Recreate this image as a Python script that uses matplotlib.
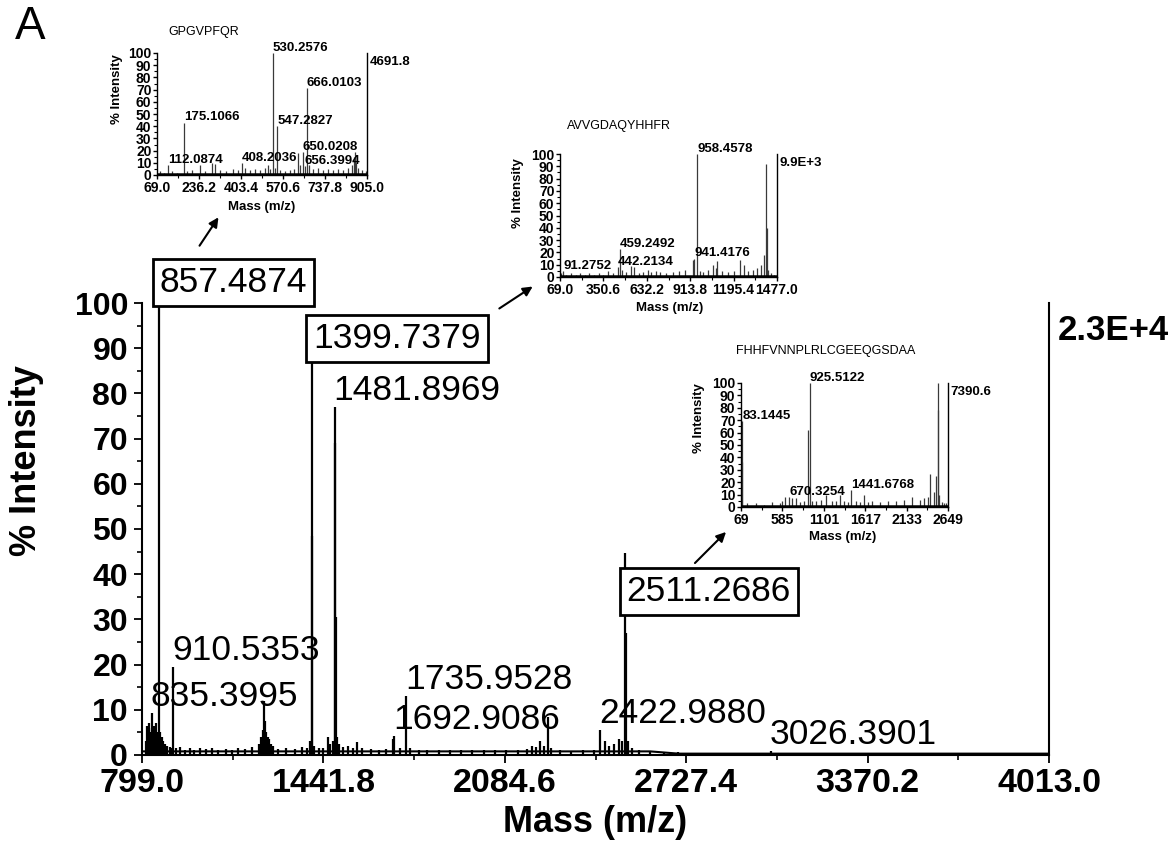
import matplotlib
matplotlib.use("Agg")
import matplotlib.pyplot as plt
from matplotlib.ticker import MultipleLocator, FixedLocator

plt.rcParams["font.family"] = ["Liberation Sans", "DejaVu Sans"]

# ---------------------------------------------------------------------------
# Data
# ---------------------------------------------------------------------------

# main MS spectrum: peak m/z and % intensity
main_mz = [812, 818, 825, 829, 833.4, 835.3995, 838, 843, 848.6, 852, 857.4874,
           863, 869, 874.5, 880, 888, 897, 904, 910.5353, 920, 935, 950, 968,
           985, 1005, 1025, 1048, 1070, 1095, 1118, 1140, 1165, 1190, 1212,
           1222, 1228, 1231.3, 1235, 1240, 1245, 1250, 1256, 1262, 1280, 1310,
           1340, 1365, 1385, 1396, 1399.7379, 1401.5, 1410, 1425, 1440, 1459,
           1466, 1475, 1481.8969, 1483.5, 1485.5, 1490, 1497, 1510, 1530, 1548,
           1560, 1580, 1610, 1640, 1665, 1687, 1692.9086, 1712, 1735.9528, 1750,
           1780, 1810, 1850, 1890, 1930, 1970, 2010, 2050, 2090, 2130, 2165,
           2180, 2195, 2209, 2222, 2238, 2250, 2280, 2320, 2360, 2400, 2422.9880,
           2440, 2455, 2470, 2488, 2500, 2511.2686, 2513, 2520, 2535, 2560, 2600,
           2650, 2700, 2760, 2820, 2900, 3000, 3026.3901, 3100, 3200, 3300, 3450,
           3600, 3700, 3750, 3800, 3850, 3900, 3950, 4000]
main_int = [3, 6.5, 7, 5, 6, 9.3, 4, 6.5, 7, 5, 100,
            5, 4, 3, 2.5, 2, 1.8, 1.5, 19.5, 1.5, 1.8, 1.2, 1.5,
            1.2, 1.5, 1.3, 1.6, 1.2, 1.4, 1.2, 1.5, 1.3, 1.8, 2.5,
            4, 5.5, 12, 7.5, 5, 4, 3.5, 2.5, 2, 1.4, 1.5,
            1.3, 1.8, 1.5, 3, 87, 48.5, 2, 1.5, 1.5, 4,
            2.5, 3, 77, 69, 30.5, 4, 2.5, 1.8, 2, 1.5,
            2.8, 1.5, 1.3, 1.2, 1.3, 3.5, 4.2, 1.5, 13, 1.5,
            1.2, 1.0, 1.2, 1.0, 1.0, 1.2, 1.0, 1.0, 1.2, 1.0, 1.4,
            2, 1.8, 3, 2, 8.5, 1.5, 1.0, 0.8, 1.0, 1.2, 5.5,
            3, 2, 2.5, 3.5, 3, 44.7, 27, 3, 1.5, 1.0, 0.8,
            0.6, 0.6, 0.5, 0.5, 0.5, 0.5, 0.8, 0.4, 0.4, 0.4, 0.4,
            0.4, 0.5, 0.5, 0.5, 0.5, 0.5, 0.4, 0.4]
main_base_mz = [799, 2600, 2700, 4013]
main_base_int = [0.8, 0.8, 0.3, 0.3]
main_xticks = [799.0, 1441.8, 2084.6, 2727.4, 3370.2, 4013.0]
main_labels = [835.3995, 910.5353, 1481.8969, 1692.9086, 1735.9528,
               2422.9880, 3026.3901]
main_boxed = [857.4874, 1399.7379, 2511.2686]
main_max = "2.3E+4"

# MS/MS inset 1
ins1_title = "GPGVPFQR"
ins1_mz = [80, 95, 112.0874, 130, 150, 175.1066, 190, 210, 240, 260, 287, 300,
           320, 345, 370, 390, 408.2036, 420, 440, 460, 480, 500, 511, 520,
           530.2576, 540, 547.2827, 560, 580, 600, 615, 630, 640, 650.0208,
           656.3994, 666.0103, 675, 690, 710, 730, 750, 770, 790, 810, 830, 845,
           852, 857, 862, 870, 885, 900]
ins1_int = [3, 2, 8, 3, 2, 43, 3, 4, 8, 3, 10, 9,
            4, 3, 5, 4, 10, 6, 4, 5, 4, 6, 8, 5,
            100, 6, 40, 4, 3, 4, 5, 18, 8, 19,
            7, 71, 8, 5, 6, 4, 5, 4, 5, 4, 6, 8,
            15, 19, 10, 6, 4, 3]
ins1_xticks = [69.0, 236.2, 403.4, 570.6, 737.8, 905.0]
ins1_labels = [112.0874, 175.1066, 408.2036, 530.2576, 547.2827, 650.0208,
               656.3994, 666.0103]
ins1_max = "4691.8"

# MS/MS inset 2
ins2_title = "AVVGDAQYHHFR"
ins2_mz = [75, 91.2752, 110, 140, 170, 200, 230, 260, 290, 320, 350, 380, 410,
           442.2134, 459.2492, 470, 500, 530, 550, 580, 610, 640, 660, 690, 720,
           760, 800, 840, 880, 935, 941.4176, 958.4578, 975, 1000, 1030, 1062,
           1080, 1090, 1120, 1160, 1200, 1240, 1260, 1290, 1320, 1350, 1375,
           1395, 1406, 1410, 1420, 1440, 1460]
ins2_int = [3, 5, 2, 3, 2, 3, 2, 3, 2, 3, 2, 5, 3,
            8, 23, 6, 4, 9, 8, 3, 4, 6, 4, 5, 4,
            3, 4, 5, 6, 14, 15, 100, 5, 4, 6, 10,
            7, 13, 5, 4, 5, 14, 10, 5, 6, 7, 10,
            18, 92, 40, 6, 3, 2]
ins2_xticks = [69.0, 350.6, 632.2, 913.8, 1195.4, 1477.0]
ins2_labels = [91.2752, 442.2134, 459.2492, 941.4176, 958.4578]
ins2_max = "9.9E+3"

# MS/MS inset 3
ins3_title = "FHHFVNNPLRLCGEEQGSDAA"
ins3_mz = [80, 83.1445, 150, 250, 350, 450, 550, 585, 620, 670.3254, 700, 760,
           800, 850, 910, 925.5122, 960, 1000, 1060, 1130, 1200, 1250, 1300,
           1350, 1400, 1441.6768, 1500, 1550, 1600, 1650, 1700, 1800, 1900,
           2000, 2100, 2200, 2300, 2350, 2400, 2420, 2480, 2505, 2520, 2524,
           2540, 2570, 2600, 2630]
ins3_int = [36, 69, 3, 3, 2, 4, 3, 5, 8, 8, 7, 7,
            4, 5, 62, 100, 5, 5, 6, 10, 5, 5, 10,
            5, 4, 14, 5, 4, 10, 4, 5, 4, 5,
            5, 6, 8, 6, 7, 8, 27, 12, 25, 100, 78,
            10, 4, 3, 3]
ins3_xticks = [69, 585, 1101, 1617, 2133, 2649]
ins3_labels = [83.1445, 670.3254, 925.5122, 1441.6768]
ins3_max = "7390.6"

# ---------------------------------------------------------------------------
# Layout helpers (pixel -> figure fraction)
# ---------------------------------------------------------------------------
W, H = 1174, 856


def fx(x):
    return x / W


def fy(y):
    return 1 - y / H


def rect(x0, y_top, x1, y_bot):
    return [fx(x0), fy(y_bot), fx(x1) - fx(x0), fy(y_top) - fy(y_bot)]


def minor_between(ticks):
    return [(a + b) / 2 for a, b in zip(ticks[:-1], ticks[1:])]


fig = plt.figure(figsize=(W / 100, H / 100), dpi=100)

# ---------------------------------------------------------------------------
# Main spectrum
# ---------------------------------------------------------------------------
ax = fig.add_axes(rect(142, 303, 1049, 755))
ax.set_xlim(main_xticks[0], main_xticks[-1])
ax.set_ylim(0, 100)
ax.vlines(main_mz, 0, main_int, color="black", lw=1.6)
ax.plot(main_base_mz, main_base_int, color="black", lw=1.5)

ax.spines["top"].set_visible(False)
for s in ("left", "bottom", "right"):
    ax.spines[s].set_linewidth(1.5)

ax.set_xticks(main_xticks, labels=[f"{v:.1f}" for v in main_xticks],
              fontsize=24.5, fontweight="bold")
ax.xaxis.set_minor_locator(FixedLocator(minor_between(main_xticks)))
ax.yaxis.set_major_locator(MultipleLocator(10))
ax.yaxis.set_minor_locator(MultipleLocator(5))
for lbl in ax.get_yticklabels():
    lbl.set_fontsize(23)
    lbl.set_fontweight("bold")
ax.tick_params(which="major", direction="out", length=6, width=1.3, pad=3)
ax.tick_params(which="minor", direction="out", length=3.5, width=1.2)
ax.tick_params(axis="y", which="major", pad=4)

peak_h = dict(zip(main_mz, main_int))
for m in main_labels:
    ax.annotate(f"{m:.4f}", xy=(m, peak_h[m]), xytext=(-1, 5),
                textcoords="offset points", ha="left", va="baseline",
                fontsize=25.5, annotation_clip=False)

# the 2511 label sits on the shorter (27 %) line of its doublet
box_anchor = {857.4874: 857.4874, 1399.7379: 1399.7379, 2511.2686: 2513}
box_shift = {857.4874: 8, 1399.7379: 10, 2511.2686: 23}
for m in main_boxed:
    ax.annotate(f"{m:.4f}", xy=(m, peak_h[box_anchor[m]]),
                xytext=(1, box_shift[m]),
                textcoords="offset points", ha="left", va="baseline",
                fontsize=25.5, annotation_clip=False,
                bbox=dict(boxstyle="square,pad=0.2", fc="white", ec="black",
                          lw=2))

ax.annotate(main_max, xy=(1, 1), xycoords="axes fraction", xytext=(6, -8),
            textcoords="offset points", ha="left", va="top", fontsize=25,
            fontweight="bold")

fig.text(fx(595), fy(822), "Mass (m/z)", ha="center", va="center",
         fontsize=26, fontweight="bold")
fig.text(fx(27), fy(461), "% Intensity", ha="center", va="center",
         rotation=90, fontsize=26, fontweight="bold")
fig.text(fx(30), fy(27), "A", ha="center", va="center", fontsize=33)


# ---------------------------------------------------------------------------
# MS/MS insets
# ---------------------------------------------------------------------------
def draw_inset(box, mz, inten, xticks, fmt, labels, title, max_txt,
               title_xy, ylab_xy, xlab_xy):
    a = fig.add_axes(rect(*box))
    a.patch.set_alpha(0)
    a.set_xlim(xticks[0], xticks[-1])
    a.set_ylim(0, 100)
    a.vlines(mz, 0, inten, color="#3a3a3a", lw=0.9)
    a.plot([xticks[0], xticks[-1]], [1.2, 1.2], color="black", lw=1.8)
    a.spines["top"].set_visible(False)
    for s in ("left", "bottom", "right"):
        a.spines[s].set_linewidth(1.0)
    a.set_xticks(xticks, labels=[fmt(v) for v in xticks], fontsize=10,
                 fontweight="bold")
    a.xaxis.set_minor_locator(FixedLocator(minor_between(xticks)))
    a.yaxis.set_major_locator(MultipleLocator(10))
    a.yaxis.set_minor_locator(MultipleLocator(5))
    for lbl in a.get_yticklabels():
        lbl.set_fontsize(10)
        lbl.set_fontweight("bold")
    a.tick_params(which="major", direction="out", length=3, width=1, pad=1)
    a.tick_params(which="minor", direction="out", length=2, width=0.8)

    hh = dict(zip(mz, inten))
    for m in labels:
        a.annotate(f"{m:.4f}", xy=(m, hh[m]), xytext=(0, 1.5),
                   textcoords="offset points", ha="left", va="baseline",
                   fontsize=9.5, fontweight="bold", annotation_clip=False)
    a.annotate(max_txt, xy=(1, 1), xycoords="axes fraction", xytext=(2, -2),
               textcoords="offset points", ha="left", va="top", fontsize=9.5,
               fontweight="bold")
    fig.text(fx(title_xy[0]), fy(title_xy[1]), title, ha="center",
             va="center", fontsize=9)
    fig.text(fx(ylab_xy[0]), fy(ylab_xy[1]), "% Intensity", ha="center",
             va="center", rotation=90, fontsize=9.5, fontweight="bold")
    fig.text(fx(xlab_xy[0]), fy(xlab_xy[1]), "Mass (m/z)", ha="center",
             va="center", fontsize=9.5, fontweight="bold")
    return a


draw_inset((157, 53, 367, 175), ins1_mz, ins1_int, ins1_xticks,
           lambda v: f"{v:.1f}", ins1_labels, ins1_title, ins1_max,
           (204, 32), (117, 89), (262, 207))
draw_inset((560, 154, 777, 277), ins2_mz, ins2_int, ins2_xticks,
           lambda v: f"{v:.1f}", ins2_labels, ins2_title, ins2_max,
           (619, 126), (518, 193), (670, 308))
draw_inset((741, 383, 948, 507), ins3_mz, ins3_int, ins3_xticks,
           lambda v: f"{v:d}", ins3_labels, ins3_title, ins3_max,
           (826, 351), (699, 418), (843, 537))

# arrows from boxed precursor peaks to their MS/MS spectra
arrows = [((198, 248), (220, 215)), ((497, 310), (535, 285)),
          ((693, 565), (728, 530))]
for (x0, y0), (x1, y1) in arrows:
    fig.add_artist(matplotlib.patches.FancyArrowPatch(
        (fx(x0), fy(y0)), (fx(x1), fy(y1)), transform=fig.transFigure,
        arrowstyle="-|>", mutation_scale=14, lw=1.5, color="black"))

fig.savefig("out.png", dpi=100)
